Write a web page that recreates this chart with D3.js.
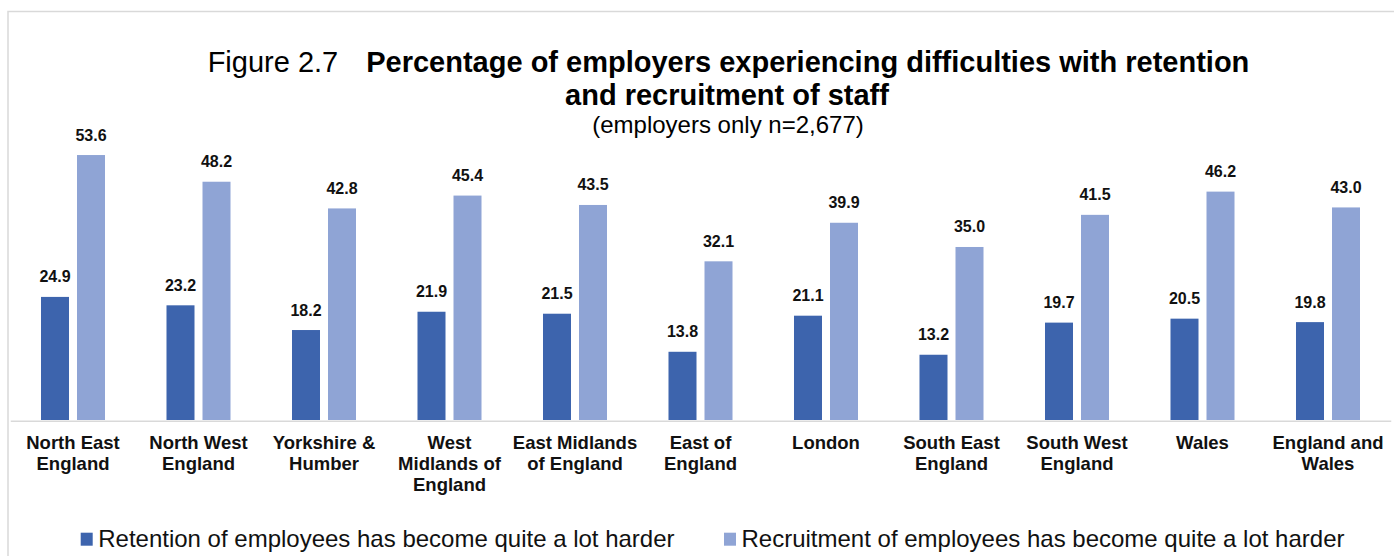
<!DOCTYPE html>
<html>
<head>
<meta charset="utf-8">
<script src="https://cdn.jsdelivr.net/npm/d3@7"></script>
<style>
  html, body { margin: 0; padding: 0; background: #fff; }
  svg { display: block; font-family: "Liberation Sans", Arial, sans-serif; }
</style>
</head>
<body>
<svg id="chart" width="1394" height="556"></svg>
<script>
const categories = [
  "North East\nEngland", "North West\nEngland", "Yorkshire &\nHumber",
  "West\nMidlands of\nEngland", "East Midlands\nof England", "East of\nEngland",
  "London", "South East\nEngland", "South West\nEngland", "Wales", "England and\nWales"
];
const retention = [24.9, 23.2, 18.2, 21.9, 21.5, 13.8, 21.1, 13.2, 19.7, 20.5, 19.8];
const recruitment = [53.6, 48.2, 42.8, 45.4, 43.5, 32.1, 39.9, 35.0, 41.5, 46.2, 43.0];
const seriesNames = [
  "Retention of employees has become quite a lot harder",
  "Recruitment of employees has become quite a lot harder"
];
const seriesKeys = ["ret", "rec"];
const colors = ["#3D64AD", "#8FA4D5"];
const titleLead = "Figure 2.7";
const titleBold1 = "Percentage of employers experiencing difficulties with retention";
const titleBold2 = "and recruitment of staff";
const subtitle = "(employers only n=2,677)";

const svg = d3.select("#chart");

// outer border (only top and left visible)
svg.append("rect").attr("x", 8).attr("y", 11.5).attr("width", 1420).attr("height", 600)
  .attr("fill", "none").attr("stroke", "#D9D9D9").attr("stroke-width", 1.5);

const x = d3.scaleBand().domain(categories).range([10.25, 1390.75])
  .paddingInner(0.49).paddingOuter(0.245);
const xs = d3.scaleBand().domain(seriesKeys).range([0, x.bandwidth()]).paddingInner(8 / 36);
const y = d3.scaleLinear().domain([0, 60]).range([420, 123.4]);

const data = categories.map((c, i) => ({ cat: c, ret: retention[i], rec: recruitment[i] }));

const groups = svg.append("g").selectAll("g").data(data).join("g")
  .attr("transform", d => `translate(${x(d.cat)},0)`);

seriesKeys.forEach((k, si) => {
  groups.append("rect")
    .attr("x", xs(k)).attr("width", xs.bandwidth())
    .attr("y", d => y(d[k])).attr("height", d => y(0) - y(d[k]))
    .attr("fill", colors[si]);
  groups.append("text")
    .attr("x", xs(k) + xs.bandwidth() / 2)
    .attr("y", d => y(d[k]) - 14.5)
    .attr("text-anchor", "middle")
    .attr("font-size", 16).attr("font-weight", "bold").attr("fill", "#111")
    .text(d => d[k].toFixed(1));
});

// x axis
const axis = svg.append("g").attr("transform", "translate(0,420.75)")
  .call(d3.axisBottom(x).tickSize(0).tickPadding(0));
axis.select(".domain").attr("stroke", "#D9D9D9").attr("stroke-width", 1.5);
axis.selectAll(".tick text").each(function(d) {
  const t = d3.select(this);
  t.text(null).attr("y", 0).attr("dy", null)
    .attr("font-size", 18.5).attr("font-weight", "bold").attr("fill", "#111")
    .attr("font-family", "Liberation Sans, Arial, sans-serif");
  d.split("\n").forEach((line, i) => {
    t.append("tspan").attr("x", 0).attr("y", 28.5 + i * 21).text(line);
  });
});

// title
const title = svg.append("text").attr("x", 728.5).attr("y", 72)
  .attr("text-anchor", "middle").attr("font-size", 29).attr("fill", "#000");
title.append("tspan").text(titleLead);
title.append("tspan").attr("dx", 28).attr("font-weight", "bold").text(titleBold1);
svg.append("text").attr("x", 727).attr("y", 105).attr("text-anchor", "middle")
  .attr("font-size", 29).attr("font-weight", "bold").attr("fill", "#000").text(titleBold2);
svg.append("text").attr("x", 728).attr("y", 132.5).attr("text-anchor", "middle")
  .attr("font-size", 24).attr("fill", "#000").text(subtitle);

// legend
const legendX = [80.7, 724];
const lg = svg.append("g").selectAll("g").data(seriesNames).join("g")
  .attr("transform", (d, i) => `translate(${legendX[i]},0)`);
lg.append("rect").attr("x", 0).attr("y", 532.7).attr("width", 12).attr("height", 13)
  .attr("fill", (d, i) => colors[i]);
lg.append("text").attr("x", 17.5).attr("y", 547).attr("font-size", 24).attr("fill", "#111")
  .text(d => d);
</script>
</body>
</html>
